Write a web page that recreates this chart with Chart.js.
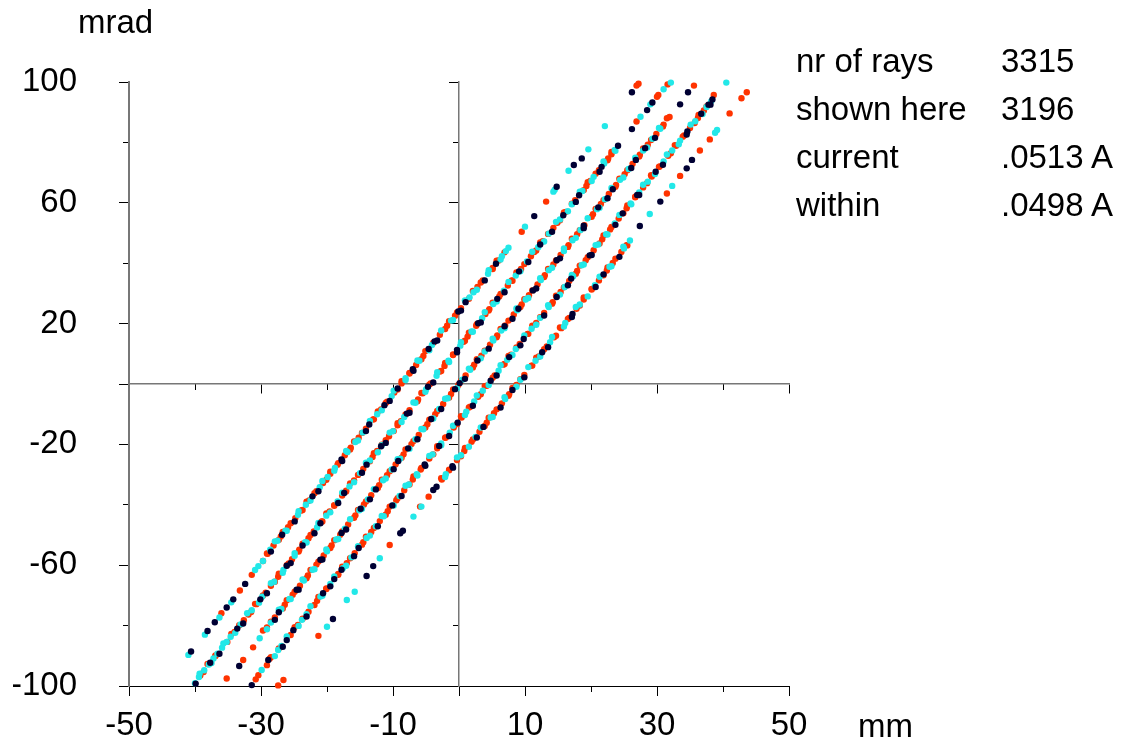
<!DOCTYPE html>
<html>
<head>
<meta charset="utf-8">
<script src="https://cdn.jsdelivr.net/npm/chart.js@4.4.1/dist/chart.umd.min.js"></script>
<style>
  body { margin: 0; background: #fff; }
  #wrap { position: relative; width: 1123px; height: 744px; font-family: Arial, "Liberation Sans", sans-serif; color: #000; }
  canvas { position: absolute; left: 0; top: 0; }
  .lbl { position: absolute; font-size: 33px; line-height: 33px; white-space: nowrap; }
</style>
</head>
<body>
<div id="wrap">
  <canvas id="chart" width="1123" height="744"></canvas>
  <div class="lbl" style="left:78px;top:5px">mrad</div>
  <div class="lbl" style="left:858px;top:709px">mm</div>
  <div class="lbl" style="left:796px;top:44px">nr of rays</div>
  <div class="lbl" style="left:1001px;top:44px">3315</div>
  <div class="lbl" style="left:796px;top:92px">shown here</div>
  <div class="lbl" style="left:1001px;top:92px">3196</div>
  <div class="lbl" style="left:796px;top:140px">current</div>
  <div class="lbl" style="left:1001px;top:140px">.0513 A</div>
  <div class="lbl" style="left:796px;top:188px">within</div>
  <div class="lbl" style="left:1001px;top:188px">.0498 A</div>
</div>
<script>
// axis ticks
const xLabelTicks = [-50, -30, -10, 0, 10, 30, 50]
const xMinorTicks = [-40, -20, 20, 40]
const yLabelTicks = [-100, -60, -20, 0, 20, 60, 100]
const yMinorTicks = [-80, -40, 40, 80]

// rays, x in mm, y in mrad (five bands)
const navyRays = [
  // band 1
  [-40.6,-88.6],[-38.1,-81.8],[-37.0,-78.9],[-35.2,-74.0],[-34.2,-71.3],[-32.4,-66.2],
  [-26.8,-49.9],[-22.2,-37.2],[-17.8,-25.0],[-13.6,-13.4],[-11.3,-7.0],[-9.3,-1.5],[-7.0,4.9],[-4.6,11.6],[-3.7,14.1],[-0.1,24.0],[1.0,27.1],[5.6,39.8],
  [11.4,55.6],[14.8,65.3],[17.4,72.5],[18.6,74.7],[26.2,96.6],
  [-28.5,-55.5],[-24.9,-45.5],[-21.3,-35.5],[-17.7,-25.5],[-14.1,-15.6],[-10.5,-5.6],[-6.9,4.4],[-3.3,14.4],[0.3,24.3],[3.9,34.3],
  // band 2
  [-37.7,-92.3],[-33.6,-81.0],[-30.1,-71.3],[-26.1,-60.2],[-23.7,-53.5],[-21.0,-46.1],[-17.4,-36.1],[-14.0,-26.7],[-11.8,-20.6],[-7.9,-9.8],[-4.7,-0.9],[-0.3,11.3],[2.9,20.1],[5.8,28.2],[9.1,37.3],[12.3,46.2],[15.8,55.9],[18.2,62.5],[21.6,71.9],[24.1,78.9],
  [26.2,84.4],[28.5,90.7],[29.3,93.2],
  [-39.9,-99.2],[-36.3,-89.3],[-32.7,-79.3],[-29.1,-69.3],[-25.5,-59.3],[-21.9,-49.4],[-18.3,-39.4],[-14.7,-29.4],[-11.1,-19.5],[-7.5,-9.5],[-3.9,0.5],[-0.3,10.5],[3.3,20.4],[6.9,30.4],[10.5,40.4],[14.1,50.4],[17.7,60.3],[21.3,70.3],
  // band 3
  [-33.3,-93.4],[-27.3,-75.6],[-24.6,-68.1],[-21.0,-58.2],[-17.8,-49.3],[-14.9,-41.3],[-12.6,-34.9],[-9.2,-25.5],[-7.7,-21.3],[-4.2,-11.6],[-0.6,-1.7],[0.1,0.3],[2.8,7.8],[6.9,19.1],[9.0,24.9],[11.2,31.0],[14.8,41.0],[18.9,52.4],[21.1,58.5],[23.3,64.5],[26.8,74.2],[28.2,78.1],[33.5,92.6],[34.7,96.6],
  [-27.9,-78.1],[-24.3,-68.1],[-20.7,-58.1],[-17.1,-48.2],[-13.5,-38.2],[-9.9,-28.2],[-6.3,-18.3],[-2.7,-8.3],[0.9,1.7],[4.5,11.7],[8.1,21.6],[11.7,31.6],[15.3,41.6],[18.9,51.6],[22.5,61.5],[26.1,71.5],[29.7,81.5],
  // band 4
  [-31.4,-99.7],[-28.9,-91.4],[-26.1,-84.8],[-25.1,-81.5],[-20.6,-69.3],[-18.9,-64.6],[-17.8,-61.5],[-15.2,-54.3],[-10.1,-40.2],[-5.2,-26.6],[-3.0,-20.5],[-0.2,-12.8],[4.8,1.1],[7.6,8.9],[9.8,14.9],[14.8,28.8],[17.0,34.9],[19.8,42.6],[24.8,56.5],[27.0,62.6],[29.8,70.3],[34.6,83.6],[36.7,89.5],[37.8,92.5],[38.4,94.2],
  [-26.7,-87.0],[-23.1,-77.0],[-19.5,-67.0],[-15.9,-57.0],[-12.3,-47.1],[-8.7,-37.1],[-5.1,-27.1],[-1.5,-17.2],[2.1,-7.2],[5.7,2.8],[9.3,12.8],[12.9,22.7],[16.5,32.7],[20.1,42.7],[23.7,52.7],[27.3,62.6],[30.9,72.6],[34.5,82.6],[38.1,92.5],
  // band 5
  [-19.1,-77.8],[-14.0,-63.6],[-13.0,-60.3],[-8.9,-49.4],[-8.5,-48.6],[-3.9,-35.1],[-3.4,-34.0],
  [-1.0,-27.2],[3.7,-14.2],[8.1,-2.0],[12.6,10.5],[17.2,23.2],[21.9,36.3],
  [27.4,52.3],[30.5,60.4],[34.5,71.4],[35.3,74.2],
  [-0.9,-27.7],[2.7,-17.7],[6.3,-7.8],[9.9,2.2],[13.5,12.2],[17.1,22.2],[20.7,32.1],[24.3,42.1]
]

const cyanRays = [
  // band 1
  [-41.0,-89.7],[-38.5,-83.0],[-36.3,-77.3],[-34.5,-72.3],[-30.9,-61.6],[-30.4,-60.3],
  [-28.6,-54.9],[-27.5,-51.9],[-26.3,-48.6],[-24.4,-43.3],[-23.2,-40.0],[-21.1,-34.2],[-19.9,-30.8],[-18.8,-27.8],[-16.9,-22.5],[-15.7,-19.2],[-14.6,-16.1],[-12.4,-10.0],[-10.2,-4.0],[-8.1,1.9],[-6.0,7.7],[-4.1,12.9],[-1.2,21.0],[1.6,28.7],[2.2,30.4],[4.4,36.5],[6.5,42.3],[7.1,44.0],[7.5,45.1],
  [10.0,52.1],[14.3,63.7],[14.5,64.3],[16.6,70.6],[19.6,77.7],[22.1,85.4],
  [-29.7,-58.6],[-27.9,-52.1],[-26.1,-48.6],[-24.3,-42.1],[-22.5,-38.6],[-20.7,-32.1],[-18.9,-28.7],[-17.1,-22.2],[-15.3,-18.7],[-13.5,-12.2],[-11.7,-8.7],[-9.9,-2.2],[-8.1,1.3],[-6.3,7.8],[-4.5,11.2],[-2.7,17.7],[-0.9,21.2],[0.9,27.7],[2.7,31.2],[4.5,37.7],[6.3,41.2],
  // band 2
  [-40.0,-99.1],[-39.4,-97.0],[-38.6,-94.8],[-37.9,-92.9],[-37.2,-90.9],[-36.6,-89.3],[-35.9,-87.3],[-35.2,-85.4],[-34.6,-83.7],[-33.1,-79.6],[-31.4,-74.9],[-29.8,-70.4],[-28.0,-65.5],[-26.6,-61.6],[-24.9,-56.9],[-23.3,-52.4],[-21.5,-47.5],[-20.1,-43.6],[-18.4,-38.9],[-16.6,-33.9],[-15.0,-29.5],[-13.5,-25.3],[-11.7,-20.3],[-10.0,-15.6],[-8.3,-10.9],[-6.6,-6.2],[-5.0,-1.8],[-3.4,2.7],[-1.6,7.7],[0.2,12.7],[1.9,17.4],[3.5,21.8],[5.2,26.5],[6.8,30.9],[8.6,35.9],[10.3,40.6],[12.0,45.3],[13.6,49.8],[15.3,54.5],[17.1,59.5],[18.7,63.9],[20.4,68.6],[22.0,73.0],[23.6,77.5],
  [27.5,88.5],[29.0,92.6],[31.0,97.6],[32.1,99.8],
  [-39.3,-95.9],[-37.5,-92.4],[-35.7,-85.9],[-33.9,-82.4],[-32.1,-75.9],[-30.3,-72.4],[-28.5,-66.0],[-26.7,-62.5],[-24.9,-56.0],[-23.1,-52.5],[-21.3,-46.0],[-19.5,-42.5],[-17.7,-36.0],[-15.9,-32.5],[-14.1,-26.1],[-12.3,-22.6],[-10.5,-16.1],[-8.7,-12.6],[-6.9,-6.1],[-5.1,-2.6],[-3.3,3.9],[-1.5,7.3],[0.3,13.8],[2.1,17.3],[3.9,23.8],[5.7,27.3],[7.5,33.8],[9.3,37.3],[11.1,43.8],[12.9,47.2],[14.7,53.7],[16.5,57.2],[18.3,63.7],[20.1,67.2],[21.9,73.7],[23.7,77.2],
  // band 3
  [-30.2,-84.2],
  [-28.5,-79.0],[-26.9,-74.5],[-25.7,-71.2],[-23.5,-65.1],[-22.2,-61.5],[-20.0,-55.4],[-18.6,-51.5],[-17.3,-47.9],[-15.1,-41.8],[-13.8,-38.2],[-11.5,-31.9],[-10.2,-28.3],[-8.9,-24.7],[-6.6,-18.3],[-5.4,-15.0],[-3.0,-8.3],[-1.7,-4.7],[0.5,1.4],[1.7,4.7],[3.9,10.8],[5.2,14.4],[6.4,17.7],[8.8,24.4],[10.1,28.0],[12.4,34.4],[13.6,37.7],[15.9,44.0],[17.2,47.6],[18.4,51.0],[20.9,57.9],[22.1,61.2],[24.4,67.6],[25.7,71.2],[27.9,77.3],[29.3,81.2],[30.5,84.5],
  [-29.1,-81.2],[-27.3,-74.7],[-25.5,-71.2],[-23.7,-64.7],[-21.9,-61.3],[-20.1,-54.8],[-18.3,-51.3],[-16.5,-44.8],[-14.7,-41.3],[-12.9,-34.8],[-11.1,-31.3],[-9.3,-24.9],[-7.5,-21.4],[-5.7,-14.9],[-3.9,-11.4],[-2.1,-4.9],[-0.3,-1.4],[1.5,5.1],[3.3,8.5],[5.1,15.0],[6.9,18.5],[8.7,25.0],[10.5,28.5],[12.3,35.0],[14.1,38.5],[15.9,44.9],[17.7,48.4],[19.5,54.9],[21.3,58.4],[23.1,64.9],[24.9,68.4],[26.7,74.9],[28.5,78.3],[30.3,84.8],
  // band 4
  [-29.9,-94.7],[-27.4,-88.1],[-26.9,-86.7],[-23.8,-78.1],
  [-23.1,-76.2],[-21.0,-70.4],[-19.5,-66.2],[-17.6,-61.0],[-16.3,-57.4],[-14.0,-51.0],[-12.6,-47.1],[-11.4,-43.8],[-9.0,-37.1],[-7.6,-33.3],[-6.4,-29.9],[-4.0,-23.3],[-2.7,-19.7],[-1.4,-16.1],[1.1,-9.2],[2.3,-5.8],[3.6,-2.2],[6.0,4.4],[7.3,8.0],[8.6,11.6],[11.0,18.3],[12.3,21.9],[13.6,25.5],[16.0,32.1],[17.3,35.7],[18.6,39.3],[21.1,46.2],[22.3,49.6],[23.6,53.2],[26.0,59.8],[27.3,63.4],[28.6,67.0],[31.0,73.7],[32.3,77.3],[33.5,80.6],[35.8,87.0],[37.5,91.7],[38.2,93.6],[40.5,99.8],
  [-27.9,-90.1],[-26.1,-83.6],[-24.3,-80.1],[-22.5,-73.6],[-20.7,-70.1],[-18.9,-63.7],[-17.1,-60.2],[-15.3,-53.7],[-13.5,-50.2],[-11.7,-43.7],[-9.9,-40.2],[-8.1,-33.7],[-6.3,-30.3],[-4.5,-23.8],[-2.7,-20.3],[-0.9,-13.8],[0.9,-10.3],[2.7,-3.8],[4.5,-0.3],[6.3,6.2],[8.1,9.6],[9.9,16.1],[11.7,19.6],[13.5,26.1],[15.3,29.6],[17.1,36.1],[18.9,39.6],[20.7,46.0],[22.5,49.5],[24.3,56.0],[26.1,59.5],[27.9,66.0],[29.7,69.5],[31.5,76.0],[33.3,79.4],[35.1,85.9],[36.9,89.4],
  // band 5
  [-20.0,-80.4],[-17.0,-71.5],[-15.8,-68.8],[-12.0,-57.7],[-6.9,-43.9],[-5.7,-40.6],
  [-2.0,-29.9],[0.3,-23.6],[2.5,-17.5],[4.8,-11.1],[7.0,-5.0],[9.3,1.4],[11.6,7.7],[13.8,13.8],[16.1,20.2],[18.3,26.3],[20.6,32.7],[22.8,38.8],[25.0,44.9],[25.9,47.5],
  [28.9,56.3],[32.3,65.6],[38.8,83.2],[39.1,84.1],
  [-2.1,-30.8],[-0.3,-24.3],[1.5,-20.8],[3.3,-14.4],[5.1,-10.9],[6.9,-4.4],[8.7,-0.9],[10.5,5.6],[12.3,9.1],[14.1,15.6],[15.9,19.0],[17.7,25.5],[19.5,29.0],[21.3,35.5],[23.1,39.0],[24.9,45.5]
]

const redRays = [
  // band 1
  [-36.0,-75.9],[-33.2,-68.4],[-31.4,-63.2],[-29.7,-58.6],
  [-29.0,-56.2],[-28.1,-53.5],[-27.0,-50.5],[-25.9,-47.4],[-24.8,-44.4],[-23.9,-41.9],[-22.7,-38.6],[-21.6,-35.5],[-20.6,-32.8],[-19.5,-29.7],[-18.4,-26.7],[-17.3,-23.6],[-16.4,-21.1],[-15.2,-17.8],[-14.1,-14.8],[-13.0,-11.7],[-11.8,-8.4],[-10.9,-5.9],[-9.8,-2.8],[-8.7,0.2],[-7.5,3.5],[-6.5,6.3],[-5.4,9.3],[-2.9,16.3],[-1.8,19.3],[-0.6,22.6],[0.3,25.1],[2.8,32.1],[3.6,34.3],[5.1,38.4],[6.0,40.9],
  [9.5,50.4],[13.2,60.4],[26.9,98.8],[27.2,99.4],
  [-29.1,-56.1],[-27.3,-51.6],[-26.7,-49.0],[-25.5,-46.1],[-23.7,-41.7],[-23.1,-39.0],[-21.9,-36.2],[-20.1,-31.7],[-19.5,-29.0],[-18.3,-26.2],[-16.5,-21.7],[-15.9,-19.0],[-14.7,-16.2],[-12.9,-11.7],[-12.3,-9.1],[-11.1,-6.3],[-9.3,-1.8],[-8.7,0.9],[-7.5,3.7],[-5.7,8.2],[-5.1,10.9],[-3.9,13.7],[-2.1,18.2],[-1.5,20.8],[-0.3,23.7],[1.5,28.2],[2.1,30.8],[3.3,33.6],[5.1,38.1],[5.7,40.8],[6.9,43.6],
  // band 2
  [-39.2,-96.5],[-36.9,-90.1],[-34.0,-82.1],[-32.6,-78.2],[-31.9,-76.3],[-30.7,-72.9],[-29.3,-69.1],[-28.5,-66.8],[-27.4,-63.8],[-25.8,-59.4],[-25.3,-58.0],[-24.2,-54.9],[-22.8,-51.1],[-22.0,-48.8],[-20.8,-45.5],[-19.6,-42.2],[-18.9,-40.3],[-17.7,-36.9],[-17.1,-35.3],[-15.9,-31.9],[-14.5,-28.1],[-13.1,-24.2],[-12.4,-22.2],[-11.1,-18.6],[-10.6,-17.3],[-9.3,-13.7],[-8.8,-12.3],[-7.5,-8.7],[-6.2,-5.1],[-5.5,-3.1],[-4.3,0.2],[-2.9,4.1],[-2.2,6.0],[-0.9,9.6],[0.7,14.0],[1.3,15.7],[2.6,19.3],[4.0,23.2],[4.6,24.8],[6.1,29.0],[7.4,32.6],[8.0,34.3],[9.4,38.1],[10.9,42.3],[11.4,43.7],[12.7,47.3],[14.3,51.7],[14.9,53.4],[16.2,57.0],[17.6,60.9],[19.3,65.6],[19.9,67.2],[21.2,70.8],[22.6,74.7],[23.1,76.1],
  [26.9,86.9],[30.0,95.1],[30.2,95.7],[31.6,99.2],
  [-38.7,-95.4],[-38.1,-92.7],[-36.9,-89.9],[-35.1,-85.4],[-34.5,-82.8],[-33.3,-79.9],[-31.5,-75.5],[-30.9,-72.8],[-29.7,-70.0],[-27.9,-65.5],[-27.3,-62.8],[-26.1,-60.0],[-24.3,-55.5],[-23.7,-52.9],[-22.5,-50.0],[-20.7,-45.5],[-20.1,-42.9],[-18.9,-40.1],[-17.1,-35.6],[-16.5,-32.9],[-15.3,-30.1],[-13.5,-25.6],[-12.9,-22.9],[-11.7,-20.1],[-9.9,-15.6],[-9.3,-13.0],[-8.1,-10.1],[-6.3,-5.7],[-5.7,-3.0],[-4.5,-0.2],[-2.7,4.3],[-2.1,7.0],[-0.9,9.8],[0.9,14.3],[1.5,17.0],[2.7,19.8],[4.5,24.3],[5.1,26.9],[6.3,29.8],[8.1,34.2],[8.7,36.9],[9.9,39.7],[11.7,44.2],[12.3,46.9],[13.5,49.7],[15.3,54.2],[15.9,56.8],[17.1,59.7],[18.9,64.2],[19.5,66.8],[20.7,69.6],[22.5,74.1],[23.1,76.8],
  // band 3
  [-35.2,-97.5],[-32.7,-91.4],[-31.2,-87.2],
  [-29.1,-80.6],[-27.9,-77.3],[-26.4,-73.1],[-25.2,-69.8],[-24.1,-66.8],[-22.9,-63.4],[-21.6,-59.8],[-20.5,-56.8],[-19.3,-53.5],[-18.0,-49.9],[-16.8,-46.5],[-15.7,-43.5],[-14.4,-39.9],[-13.3,-36.8],[-12.1,-33.5],[-10.9,-30.2],[-9.6,-26.6],[-8.4,-23.3],[-7.2,-19.9],[-6.1,-16.9],[-4.8,-13.3],[-3.6,-10.0],[-2.4,-6.6],[-1.2,-3.3],[-0.1,-0.3],[1.0,2.8],[2.3,6.4],[3.4,9.4],[4.7,13.0],[5.8,16.1],[7.0,19.4],[8.3,23.0],[9.5,26.3],[10.6,29.4],[11.9,33.0],[13.0,36.0],[14.3,39.6],[15.4,42.7],[16.6,46.0],[17.9,49.6],[19.0,52.6],[20.3,56.2],[21.5,59.6],[22.7,62.9],[23.8,65.9],[25.1,69.5],[26.3,72.9],[27.4,75.9],[28.6,79.2],[29.9,82.8],[31.0,85.9],[31.9,88.4],
  [35.6,98.8],
  [-29.7,-81.6],[-28.5,-78.7],[-26.7,-74.3],[-26.1,-71.6],[-24.9,-68.8],[-23.1,-64.3],[-22.5,-61.6],[-21.3,-58.8],[-19.5,-54.3],[-18.9,-51.7],[-17.7,-48.8],[-15.9,-44.3],[-15.3,-41.7],[-14.1,-38.9],[-12.3,-34.4],[-11.7,-31.7],[-10.5,-28.9],[-8.7,-24.4],[-8.1,-21.7],[-6.9,-18.9],[-5.1,-14.4],[-4.5,-11.8],[-3.3,-8.9],[-1.5,-4.5],[-0.9,-1.8],[0.3,1.0],[2.1,5.5],[2.7,8.2],[3.9,11.0],[5.7,15.5],[6.3,18.2],[7.5,21.0],[9.3,25.5],[9.9,28.1],[11.1,31.0],[12.9,35.4],[13.5,38.1],[14.7,40.9],[16.5,45.4],[17.1,48.1],[18.3,50.9],[20.1,55.4],[20.7,58.0],[21.9,60.9],[23.7,65.3],[24.3,68.0],[25.5,70.8],[27.3,75.3],[27.9,78.0],[29.1,80.8],[30.9,85.3],[31.5,88.0],
  // band 4
  [-30.8,-97.8],[-30.4,-96.4],[-28.7,-91.0],
  [-24.4,-79.8],[-22.8,-75.4],[-21.5,-71.8],[-20.1,-67.9],[-18.3,-62.9],[-17.0,-59.3],[-15.8,-56.0],[-14.5,-52.4],[-13.3,-49.0],[-12.0,-45.4],[-10.8,-42.1],[-9.5,-38.5],[-8.3,-35.2],[-7.0,-31.6],[-5.8,-28.3],[-4.5,-24.7],[-3.3,-21.3],[-2.0,-17.7],[-0.8,-14.4],[0.4,-11.1],[1.7,-7.5],[2.9,-4.2],[4.2,-0.6],[5.4,2.8],[6.7,6.4],[7.9,9.7],[9.2,13.3],[10.4,16.6],[11.7,20.2],[12.9,23.5],[14.2,27.1],[15.4,30.5],[16.7,34.1],[17.9,37.4],[19.2,41.0],[20.4,44.3],[21.7,47.9],[22.9,51.2],[24.2,54.8],[25.4,58.2],[26.7,61.8],[27.9,65.1],[29.2,68.7],[30.4,72.0],[31.7,75.6],[32.9,78.9],[34.1,82.3],[35.0,84.8],[36.2,88.1],[37.1,90.6],
  [38.6,95.7],
  [-29.1,-93.1],[-28.5,-90.5],[-27.3,-87.6],[-25.5,-83.1],[-24.9,-80.5],[-23.7,-77.7],[-21.9,-73.2],[-21.3,-70.5],[-20.1,-67.7],[-18.3,-63.2],[-17.7,-60.5],[-16.5,-57.7],[-14.7,-53.2],[-14.1,-50.6],[-12.9,-47.7],[-11.1,-43.3],[-10.5,-40.6],[-9.3,-37.8],[-7.5,-33.3],[-6.9,-30.6],[-5.7,-27.8],[-3.9,-23.3],[-3.3,-20.6],[-2.1,-17.8],[-0.3,-13.3],[0.3,-10.7],[1.5,-7.8],[3.3,-3.4],[3.9,-0.7],[5.1,2.1],[6.9,6.6],[7.5,9.3],[8.7,12.1],[10.5,16.6],[11.1,19.3],[12.3,22.1],[14.1,26.6],[14.7,29.2],[15.9,32.0],[17.7,36.5],[18.3,39.2],[19.5,42.0],[21.3,46.5],[21.9,49.2],[23.1,52.0],[24.9,56.5],[25.5,59.1],[26.7,62.0],[28.5,66.5],[29.1,69.1],[30.3,71.9],[32.1,76.4],[32.7,79.1],[33.9,81.9],[35.7,86.4],[36.3,89.1],[37.5,91.9],
  // band 5
  [-27.4,-99.8],[-26.6,-98.0],[-21.3,-83.4],[-10.5,-53.3],[-5.9,-40.6],[-4.6,-37.3],
  [-2.6,-31.6],[-1.5,-28.6],[-0.3,-25.2],[0.8,-22.2],[1.9,-19.1],[3.1,-15.8],[4.2,-12.8],[5.3,-9.7],[6.5,-6.4],[7.6,-3.4],[8.7,-0.3],[9.9,3.0],[11.0,6.1],[12.1,9.1],[13.3,12.4],[14.4,15.5],[15.5,18.5],[16.7,21.9],[17.8,24.9],[18.9,28.0],[20.1,31.3],[21.2,34.3],[22.4,37.6],[23.3,40.1],[24.6,43.7],[25.4,46.0],
  [31.5,63.1],[33.5,68.9],[36.5,77.3],[38.0,81.0],[41.0,89.6],[42.8,94.6],[43.6,96.6],
  [-2.7,-31.2],[-1.5,-28.4],[0.3,-23.9],[0.9,-21.2],[2.1,-18.4],[3.9,-13.9],[4.5,-11.2],[5.7,-8.4],[7.5,-3.9],[8.1,-1.3],[9.3,1.6],[11.1,6.1],[11.7,8.7],[12.9,11.5],[14.7,16.0],[15.3,18.7],[16.5,21.5],[18.3,26.0],[18.9,28.7],[20.1,31.5],[21.9,36.0],[22.5,38.6],[23.7,41.5],[25.5,45.9]
]

const FONT = 'Arial, "Liberation Sans", sans-serif'

// 只画刻度线的辅助坐标轴
function tickAxis(axis, min, max, values, len, position, border) {
  return {
    type: 'linear',
    axis: axis,
    position: position,
    min: min,
    max: max,
    afterBuildTicks: s => { s.ticks = values.map(v => ({ value: v })) },
    grid: { drawOnChartArea: false, drawTicks: true, tickLength: len, tickColor: '#000', tickWidth: 1 },
    border: border || { display: false },
    ticks: { display: false }
  }
}

function toPoints(arr) {
  return arr.map(p => ({ x: p[0], y: p[1] }))
}

function raySet(arr, color) {
  return {
    data: toPoints(arr),
    backgroundColor: color,
    borderWidth: 0,
    pointRadius: 3.2,
    pointHoverRadius: 3.2,
    clip: false
  }
}

new Chart(document.getElementById('chart'), {
  type: 'scatter',
  data: {
    datasets: [
      raySet(navyRays, '#000033'),
      raySet(cyanRays, '#22e8e8'),
      raySet(redRays, '#ff3300')
    ]
  },
  options: {
    responsive: false,
    animation: false,
    events: [],
    layout: { padding: { left: 13, right: 334, top: 82, bottom: 0 } },
    plugins: { legend: { display: false }, tooltip: { enabled: false } },
    scales: {
      x: {
        type: 'linear',
        position: 'bottom',
        min: -50,
        max: 50,
        afterBuildTicks: s => { s.ticks = xLabelTicks.map(v => ({ value: v })) },
        afterFit: s => { s.height = 58 },
        grid: { drawOnChartArea: false, tickLength: 10, tickColor: '#000', tickWidth: 1 },
        border: { color: '#000', width: 1 },
        ticks: {
          autoSkip: false, maxRotation: 0, padding: 10, color: '#000',
          font: { family: FONT, size: 33 },
          callback: v => v === 0 ? '' : String(v)
        }
      },
      y: {
        type: 'linear',
        position: 'left',
        min: -100,
        max: 100,
        afterBuildTicks: s => { s.ticks = yLabelTicks.map(v => ({ value: v })) },
        // 标签的间距不要挤压底部
        afterFit: s => { s.width = 116; s.paddingTop = 20; s.paddingBottom = 20 },
        grid: { drawOnChartArea: false, tickLength: 10, tickColor: '#000', tickWidth: 1 },
        border: { color: '#777', width: 2 },
        ticks: {
          autoSkip: false, padding: 42, color: '#000',
          font: { family: FONT, size: 33 },
          callback: v => v === 0 ? '' : String(v)
        }
      },
      xMinor: tickAxis('x', -50, 50, xMinorTicks, 6, { y: -100 }),
      xc: tickAxis('x', -50, 50, xLabelTicks.filter(v => v !== 0), 9, { y: 0 }, { color: '#777', width: 1.5 }),
      xcMinor: tickAxis('x', -50, 50, xMinorTicks, 6, { y: 0 }),
      yMinor: tickAxis('y', -100, 100, yMinorTicks, 6, { x: -50 }),
      yc: tickAxis('y', -100, 100, yLabelTicks.filter(v => v !== 0), 9, { x: 0 }, { color: '#777', width: 1.5 }),
      ycMinor: tickAxis('y', -100, 100, yMinorTicks, 6, { x: 0 })
    }
  }
})
</script>
</body>
</html>
